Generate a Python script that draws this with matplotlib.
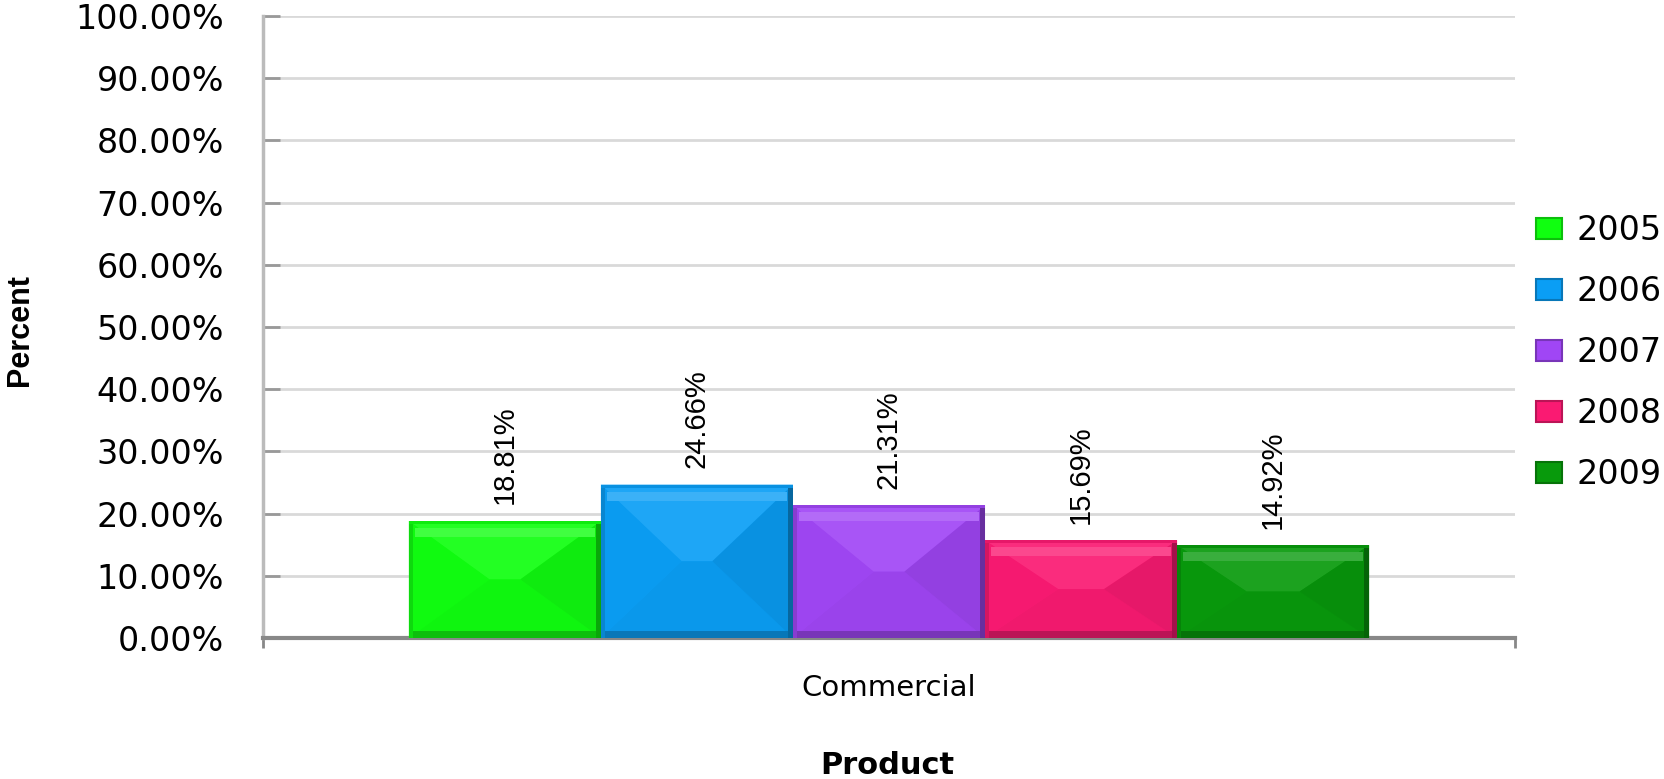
import matplotlib
matplotlib.use('Agg')
import matplotlib.pyplot as plt
from matplotlib.patches import Polygon, Patch
from matplotlib.colors import to_rgb
import numpy as np

years = ['2005', '2006', '2007', '2008', '2009']
values = [18.81, 24.66, 21.31, 15.69, 14.92]
colors = ['#10FF10', '#0A9EF5', '#A046F5', '#FA1A72', '#089A0C']
category = 'Commercial'
yticks = np.arange(0, 101, 10)


def shade(c, f):
    # f > 0 lighten, f < 0 darken
    r = np.array(to_rgb(c))
    if f > 0:
        return tuple(r + (1 - r) * f)
    return tuple(r * (1 + f))


def bevel(ax, bar, color):
    """Fake Excel-style bevel on a bar, built from the bar's own extent."""
    tr = ax.transData
    (x0, y0), (x1, y1) = tr.transform([(bar.get_x(), bar.get_y()),
                                       (bar.get_x() + bar.get_width(), bar.get_y() + bar.get_height())])
    h = y1 - y0
    w = x1 - x0
    ym = y0 + h / 2
    dx = min(0.42 * w, 0.75 * h)
    inv = tr.inverted()
    pieces = [
        ([(x0, y1), (x1, y1), (x1 - dx, ym), (x0 + dx, ym)], shade(color, 0.08)),   # top
        ([(x0, y0), (x1, y0), (x1 - dx, ym), (x0 + dx, ym)], shade(color, -0.04)),  # bottom
        ([(x0, y0), (x0, y1), (x0 + dx, ym)], shade(color, -0.02)),                 # left
        ([(x1, y0), (x1, y1), (x1 - dx, ym)], shade(color, -0.08)),                 # right
    ]
    for pts, c in pieces:
        ax.add_patch(Polygon(inv.transform(pts), closed=True, facecolor=c, edgecolor='none', zorder=3))
    # highlight stripe near top, dark band at bottom, dark edges
    strips = [
        ([(x0 + 6, y1 - 16), (x1 - 6, y1 - 16), (x1 - 6, y1 - 7), (x0 + 6, y1 - 7)], shade(color, 0.2)),
        ([(x0, y0), (x1, y0), (x1, y0 + 7), (x0, y0 + 7)], shade(color, -0.25)),
        ([(x0, y0), (x0 + 4, y0), (x0 + 4, y1), (x0, y1)], shade(color, -0.15)),
        ([(x1 - 5, y0), (x1, y0), (x1, y1), (x1 - 5, y1)], shade(color, -0.35)),
        ([(x0, y1 - 3), (x1, y1 - 3), (x1, y1), (x0, y1)], shade(color, -0.08)),
    ]
    for pts, c in strips:
        ax.add_patch(Polygon(inv.transform(pts), closed=True, facecolor=c, edgecolor='none', zorder=4))


fig = plt.figure(figsize=(16.65, 7.79), dpi=100)
ax = fig.add_axes([263 / 1665, 1 - 638 / 779, (1515 - 263) / 1665, (638 - 16) / 779])

n = len(values)
group = 0.767
bw = group / n
xs = -group / 2 + bw / 2 + bw * np.arange(n)

ax.set_xlim(-0.5, 0.5)
ax.set_ylim(0, 100)

bars = ax.bar(xs, values, width=bw, color=colors, zorder=2, linewidth=0)
for b, c in zip(bars, colors):
    bevel(ax, b, c)

for x, v in zip(xs, values):
    ax.annotate(f'{v:.2f}%', (x, v), xytext=(0, 12), textcoords='offset points',
                rotation=90, ha='center', va='bottom', fontsize=21,
                family='Liberation Sans', zorder=5)

ax.set_yticks(yticks)
ax.set_yticklabels([f'{t:.2f}%' for t in yticks], fontsize=24)
ax.yaxis.grid(True, color='#D9D9D9', linewidth=2)
ax.set_axisbelow(True)
ax.tick_params(axis='y', direction='in', length=12, width=2, color='#999999', pad=28)

ax.set_xticks([-0.5, 0.5])
ax.set_xticklabels(['', ''])
ax.tick_params(axis='x', direction='out', length=7, width=2, color='#888888')
ax.set_xticks([0], minor=True)
ax.set_xticklabels([category], minor=True, fontsize=21)
ax.tick_params(axis='x', which='minor', length=0, pad=26)

for s in ['top', 'right']:
    ax.spines[s].set_visible(False)
ax.spines['left'].set_color('#BBBBBB')
ax.spines['left'].set_linewidth(2.5)
ax.spines['bottom'].set_color('#888888')
ax.spines['bottom'].set_linewidth(3)

fig.text(887 / 1665, 1 - 765 / 779, 'Product', ha='center', va='center',
         fontsize=22, fontweight='bold')
fig.text(20 / 1665, 1 - 330 / 779, 'Percent', ha='center', va='center', rotation=90,
         fontsize=22, fontweight='bold', family='Liberation Sans')

handles = [Patch(facecolor=c, edgecolor=shade(c, -0.25), linewidth=1.5) for c in colors]
fig.legend(handles, years, loc='upper left', bbox_to_anchor=(1536 / 1665, 1 - 214 / 779),
           frameon=False, fontsize=24, handlelength=0.78, handleheight=0.6,
           handletextpad=0.45, labelspacing=0.84, borderpad=0, borderaxespad=0)

fig.savefig('out.png', dpi=100)
